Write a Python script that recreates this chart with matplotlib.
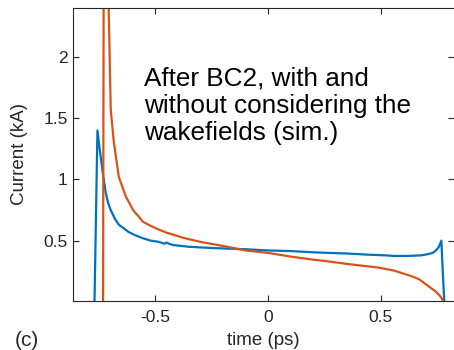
import matplotlib
matplotlib.use("Agg")
from matplotlib import pyplot as plt

# values (time in ps, current in kA)
t_wake = [-0.770, -0.757, -0.745, -0.733, -0.72, -0.71, -0.698, -0.68, -0.662,
          -0.64, -0.618, -0.59, -0.556, -0.52, -0.484, -0.46, -0.45, -0.44,
          -0.422, -0.40, -0.35, -0.30, -0.25, -0.18, -0.10, 0.0,
          0.10, 0.20, 0.27, 0.35, 0.45, 0.52, 0.56, 0.62, 0.68, 0.71, 0.73,
          0.745, 0.758, 0.769, 0.775, 0.782]
i_wake = [0.0, 1.40, 1.22, 1.05, 0.89, 0.81, 0.75, 0.68, 0.63,
          0.60, 0.57, 0.545, 0.52, 0.50, 0.49, 0.475, 0.485, 0.475,
          0.465, 0.46, 0.45, 0.445, 0.44, 0.435, 0.43, 0.42,
          0.415, 0.405, 0.40, 0.395, 0.385, 0.38, 0.375, 0.375, 0.38, 0.39, 0.40,
          0.42, 0.45, 0.50, 0.25, 0.0]

t_nowake = [-0.732, -0.729, -0.722, -0.714, -0.706, -0.698, -0.684, -0.662,
            -0.631, -0.60, -0.59, -0.575, -0.556, -0.52, -0.484, -0.45, -0.422,
            -0.38, -0.30, -0.18, -0.10, 0.0, 0.10, 0.20, 0.27, 0.35, 0.42, 0.49,
            0.56, 0.636, 0.67, 0.71, 0.74, 0.76, 0.772, 0.778]
i_nowake = [0.0, 2.9, 3.3, 3.0, 2.3, 1.57, 1.30, 1.02,
            0.86, 0.755, 0.73, 0.70, 0.655, 0.62, 0.59, 0.565, 0.55,
            0.525, 0.49, 0.45, 0.42, 0.40, 0.37, 0.345, 0.33, 0.31, 0.295, 0.28,
            0.255, 0.21, 0.185, 0.13, 0.09, 0.055, 0.025, 0.0]

x_ticks = [-0.5, 0, 0.5]
y_ticks = [0.5, 1, 1.5, 2]

plt.rcParams['font.family'] = ['Liberation Sans', 'DejaVu Sans']
fig = plt.figure(figsize=(4.54, 3.5), dpi=100)
ax = fig.add_axes([0.161, 0.141, 0.839, 0.836])

ax.plot(t_wake, i_wake, color='#0072BD', lw=1.6)
ax.plot(t_nowake, i_nowake, color='#D95319', lw=1.6)

ax.set_xlim(-0.865, 0.825)
ax.set_ylim(0.01, 2.4)
ax.set_xticks(x_ticks)
ax.set_xticklabels(['-0.5', '0', '0.5'])
ax.set_yticks(y_ticks)
ax.set_yticklabels(['0.5', '1', '1.5', '2'])
ax.tick_params(direction='in', top=True, right=True, length=4, width=0.8,
               labelsize=12.5, colors='#262626')
ax.tick_params(axis='x', pad=7)
ax.tick_params(axis='y', pad=4)
for s in ax.spines.values():
    s.set_color('#262626')
    s.set_linewidth(0.8)
ax.spines['right'].set_visible(False)

ax.set_xlabel('time (ps)', fontsize=13.5, color='#262626', labelpad=5)
ax.set_ylabel('Current (kA)', fontsize=13.5, color='#262626', labelpad=11)

ax.text(0.187, 0.80, 'After BC2, with and\nwithout considering the\nwakefields (sim.)',
        transform=ax.transAxes, fontsize=18.8, va='top', ha='left',
        linespacing=1.18, color='black')
fig.text(0.033, 0.01, '(c)', fontsize=15, color='#262626')

fig.savefig('out.png', dpi=100)
